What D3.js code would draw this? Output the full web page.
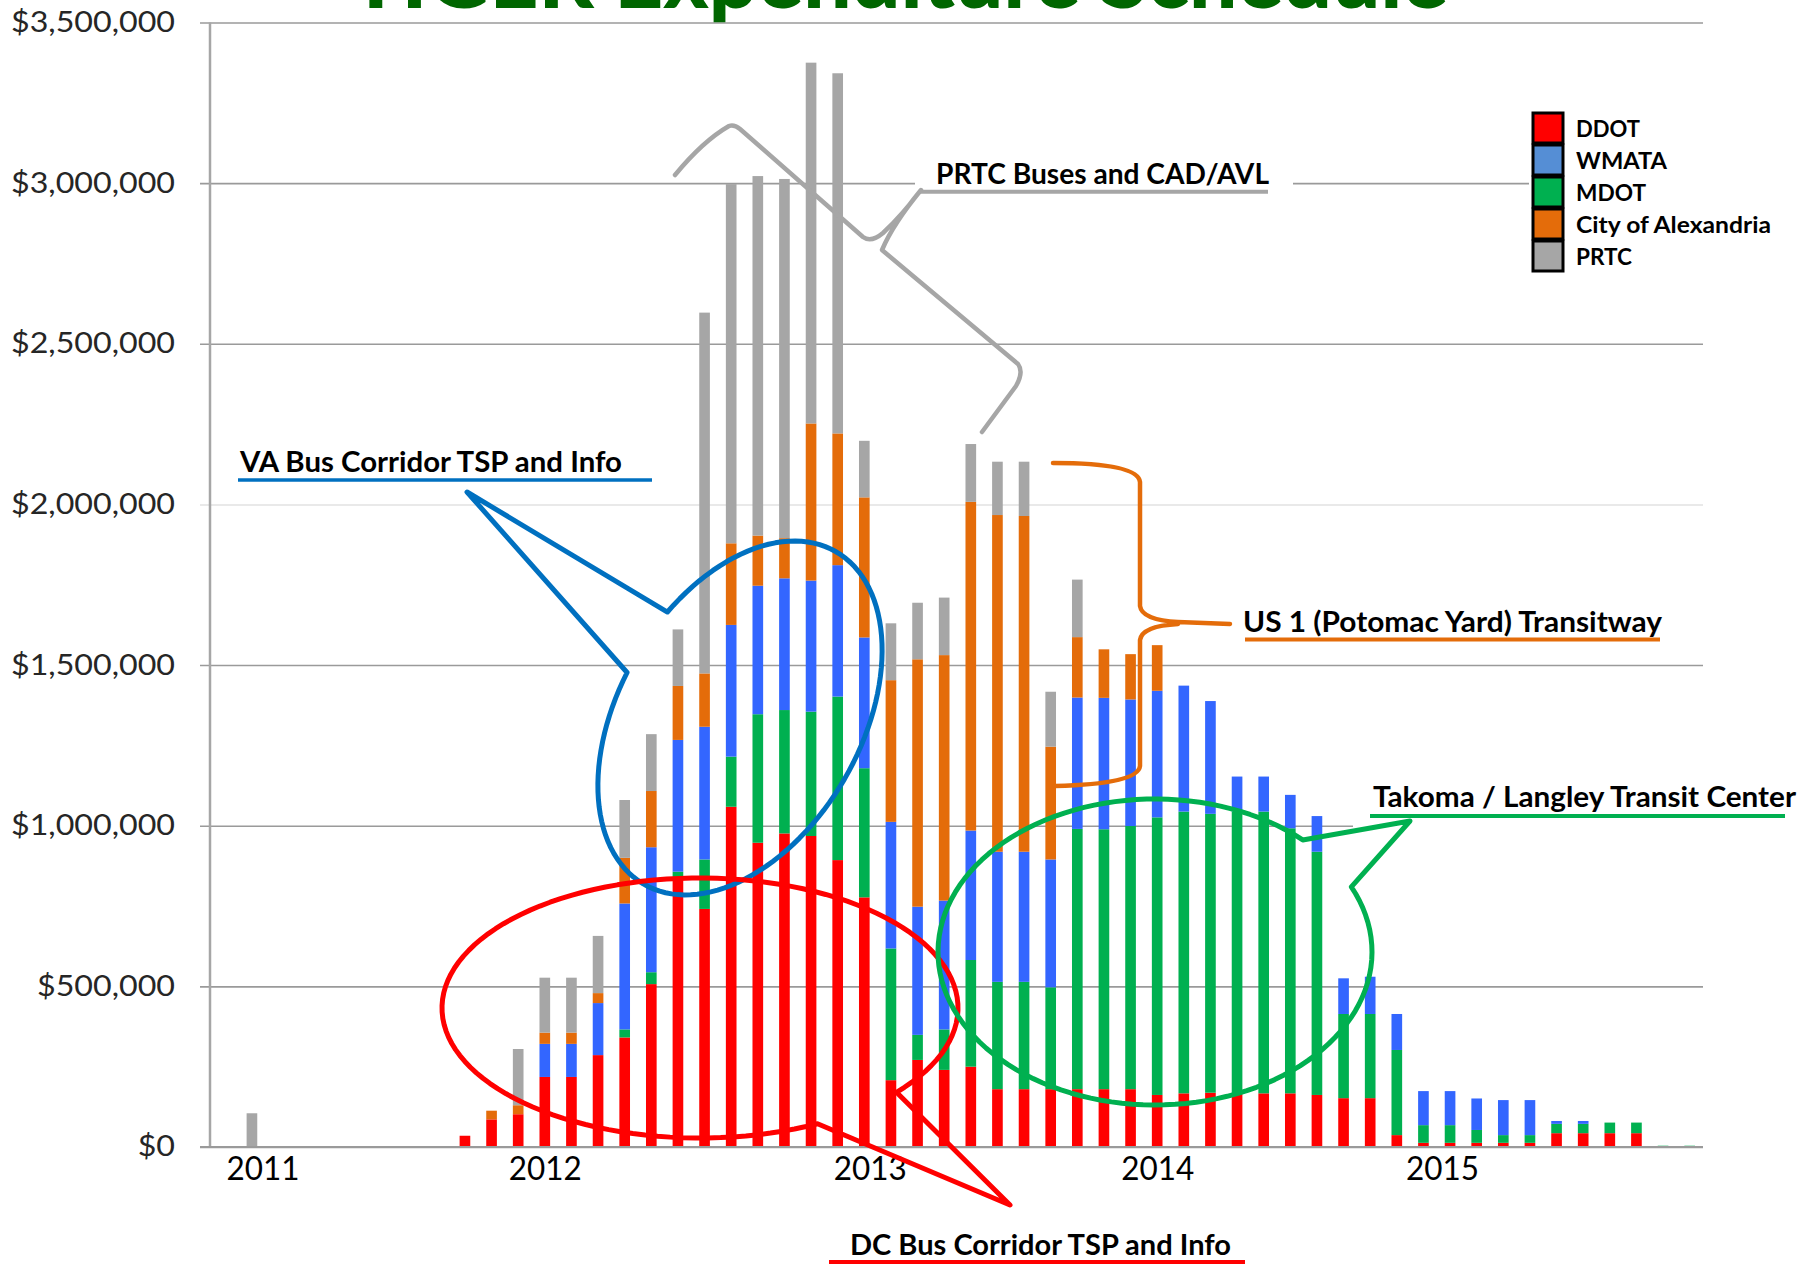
<!DOCTYPE html>
<html><head><meta charset="utf-8">
<script src="https://cdn.jsdelivr.net/npm/d3@7"></script>
<style>
html,body{margin:0;padding:0;background:#fff;}
svg{display:block;}
text{font-family:Lato,"Open Sans","Noto Sans",sans-serif;}
</style></head><body>
<svg id="chart" width="1820" height="1264"></svg>
<script>
// ---------------- DATA (values in thousands of dollars) ----------------
const UNIT = 1000;
const periods = d3.range(56).map(i => "P" + (i + 1));
const seriesNames = ["DDOT", "MDOT", "WMATA", "City of Alexandria", "PRTC"]; // stacking order (bottom -> top)
const legendNames = ["DDOT", "WMATA", "MDOT", "City of Alexandria", "PRTC"];

const ddot = [0,0,0,0,0,0,0,0,0,35,
  86,102,218,218,286,341,507,836,741,1059,
  947,976,968,893,777,208,271,240,250,180,
  180,180,180,180,180,162,167,169,167,167,
  167,162,152,152,37,13,13,13,13,13,
  43,43,43,43,0,0];
const mdot = [0,0,0,0,0,0,0,0,0,0,
  0,0,0,0,0,25,37,21,154,156,
  400,384,387,509,402,410,78,126,332,334,
  334,317,810,809,819,864,877,868,877,877,
  825,757,262,262,265,55,55,40,24,24,
  29,29,33,33,4,4];
const wmata = [0,0,0,0,0,0,0,0,0,0,
  0,0,103,103,162,392,389,410,413,410,
  400,410,408,409,407,394,399,401,403,405,
  405,398,409,409,394,394,392,351,109,109,
  104,111,111,116,112,106,106,98,109,109,
  9,9,0,0,0,0];
const alexandria = [0,0,0,0,0,0,0,0,0,0,
  27,28,35,35,31,142,175,168,166,254,
  156,125,489,410,436,441,770,764,1023,1048,
  1045,351,188,151,141,142,0,0,0,0,
  0,0,0,0,0,0,0,0,0,0,
  0,0,0,0,0,0];
const prtc = [0,105,0,0,0,0,0,0,0,0,
  0,175,171,171,178,180,177,176,1123,1118,
  1119,1118,1123,1121,176,177,176,179,180,166,
  169,171,179,0,0,0,0,0,0,0,
  0,0,0,0,0,0,0,0,0,0,
  0,0,0,0,0,0];

const yTickValues = [0, 500000, 1000000, 1500000, 2000000, 2500000, 3000000, 3500000];
const yearLabels = ["2011", "2012", "2013", "2014", "2015"];
const yearAt = [1.4, 12, 24.2, 35, 45.7]; // category index where each year label sits

const barColors = {"DDOT":"#FF0000","MDOT":"#00B050","WMATA":"#3366FF","City of Alexandria":"#E46C0A","PRTC":"#A6A6A6"};
const legendColors = {"DDOT":"#FF0000","WMATA":"#558ED5","MDOT":"#00B050","City of Alexandria":"#E46C0A","PRTC":"#A6A6A6"};

// ---------------- BUILD ----------------
const raw = {"DDOT":ddot,"MDOT":mdot,"WMATA":wmata,"City of Alexandria":alexandria,"PRTC":prtc};
const rows = periods.map((p, i) => {
  const r = {period: p};
  seriesNames.forEach(k => r[k] = raw[k][i] * UNIT);
  return r;
});
const stacked = d3.stack().keys(seriesNames)(rows);

const W = 1820, H = 1264;
const svg = d3.select("#chart");
svg.append("rect").attr("width", W).attr("height", H).attr("fill", "#fff");

const plot = {left: 212, right: 1703, top: 22.5, bottom: 1147, gridLeft: 200};
const x = d3.scaleBand().domain(periods).range([plot.left, plot.right]).paddingInner(0.6).paddingOuter(0.3);
const y = d3.scaleLinear().domain([0, 3500000]).range([plot.bottom, plot.top]);

function fit(sel, w) { sel.attr("textLength", w).attr("lengthAdjust", "spacingAndGlyphs"); return sel; }

// Y axis with gridlines
const yAxis = svg.append("g").attr("transform", `translate(${plot.gridLeft},0)`)
  .call(d3.axisLeft(y).tickValues(yTickValues).tickFormat(d3.format("$,"))
    .tickSize(-(plot.right - plot.gridLeft)).tickPadding(25));
yAxis.select(".domain").remove();
yAxis.selectAll(".tick line").attr("stroke", d => d === 2000000 ? "#e2e2e2" : "#9a9a9a").attr("stroke-width", 1.6);
yAxis.selectAll(".tick text").attr("font-size", 28).attr("fill", "#262626")
  .attr("font-family", "Lato, 'Open Sans', sans-serif");
// consistent horizontal compression of tick labels
(function(){
  const texts = yAxis.selectAll(".tick text").nodes();
  const ref = texts.find(t => t.textContent === "$3,500,000");
  const factor = 164 / ref.getComputedTextLength();
  texts.forEach(t => { const w = t.getComputedTextLength(); t.setAttribute("textLength", w * factor); t.setAttribute("lengthAdjust", "spacingAndGlyphs"); });
})();

// white label boxes hiding grid lines
svg.append("rect").attr("x", 915).attr("y", 150).attr("width", 378).attr("height", 50).attr("fill", "#fff");
svg.append("rect").attr("x", 1529).attr("y", 105).attr("width", 291).attr("height", 177).attr("fill", "#fff");
svg.append("rect").attr("x", 1353).attr("y", 775).attr("width", 467).attr("height", 57).attr("fill", "#fff");

// left axis line
svg.append("line").attr("x1", 210).attr("x2", 210).attr("y1", plot.top).attr("y2", plot.bottom)
  .attr("stroke", "#a6a6a6").attr("stroke-width", 2.5);

// Bars
svg.append("g").selectAll("g").data(stacked).join("g")
  .attr("fill", d => barColors[d.key])
  .selectAll("rect").data(d => d).join("rect")
  .attr("x", d => x(d.data.period))
  .attr("width", x.bandwidth())
  .attr("y", d => y(d[1]))
  .attr("height", d => Math.max(0, y(d[0]) - y(d[1])));

// baseline
svg.append("line").attr("x1", plot.gridLeft).attr("x2", plot.right).attr("y1", plot.bottom).attr("y2", plot.bottom)
  .attr("stroke", "#9a9a9a").attr("stroke-width", 2);

// X (year) labels
const xi = d3.scaleLinear().domain([0, periods.length - 1])
  .range([x(periods[0]) + x.bandwidth() / 2, x(periods[periods.length - 1]) + x.bandwidth() / 2]);
const xAxis = svg.append("g").attr("transform", `translate(0,${plot.bottom})`)
  .call(d3.axisBottom(xi).tickValues(yearAt).tickFormat((d, i) => yearLabels[i]).tickSize(0));
xAxis.select(".domain").remove();
xAxis.selectAll(".tick text").attr("y", 33).attr("dy", 0).attr("font-size", 32).attr("fill", "#000")
  .attr("font-family", "Lato, 'Open Sans', sans-serif").each(function(){ fit(d3.select(this), 73); });

// ---------------- ANNOTATIONS ----------------
const ann = svg.append("g").attr("fill", "none").attr("stroke-linejoin", "round").attr("stroke-linecap", "round");

function callout(cx, cy, rx, ry, rotDeg, t1, t2, tip) {
  const rot = rotDeg * Math.PI / 180;
  if (t2 < t1) t2 += 360;
  const pts = d3.range(0, 121).map(k => {
    const t = (t1 + (t2 - t1) * k / 120) * Math.PI / 180;
    const lx = rx * Math.cos(t), ly = ry * Math.sin(t);
    return [cx + lx * Math.cos(rot) - ly * Math.sin(rot), cy + lx * Math.sin(rot) + ly * Math.cos(rot)];
  });
  pts.push(tip);
  return d3.line()(pts) + "Z";
}

// PRTC brace (gray)
ann.append("path").attr("stroke", "#a6a6a6").attr("stroke-width", 4.5)
  .attr("d", "M675,175 Q703,141 729,126 Q734,124 740,129 L863,237 Q871,243 883,233 Q903,214 921,190 Q893,224 882,250 L1018,364 Q1024,372 1016,386 L982,432");
// VA bubble (blue)
ann.append("path").attr("stroke", "#0070C0").attr("stroke-width", 5)
  .attr("d", callout(740, 718, 192, 121, -60, -73.2, -95.1, [467, 492]));
// DC bubble (red)
ann.append("path").attr("stroke", "#FF0000").attr("stroke-width", 5)
  .attr("d", callout(700, 1008, 258, 130, 0, 62.9, 40.4, [1010, 1205]));
// Takoma bubble (green)
ann.append("path").attr("stroke", "#00B050").attr("stroke-width", 5)
  .attr("d", callout(1155, 952, 217, 153, 0, -25.2, -47.1, [1410, 821]));
// US 1 brace (orange)
ann.append("path").attr("stroke", "#E46C0A").attr("stroke-width", 4.5)
  .attr("d", "M1053,463 Q1138,463 1140,482 L1140,606 Q1142,620 1178,622 L1230,624 M1178,624 Q1142,626 1140,640 L1140,766 Q1138,784 1055,786");

// underlines
const ul = [
  [920, 1268, 191.7, "#a6a6a6", 4],
  [238, 652, 480, "#0070C0", 3.5],
  [1245, 1660, 639.5, "#E46C0A", 4],
  [1370, 1785, 816, "#00B050", 4],
  [829, 1245, 1262, "#FF0000", 4]
];
ul.forEach(u => ann.append("line").attr("x1", u[0]).attr("x2", u[1]).attr("y1", u[2]).attr("y2", u[2])
  .attr("stroke", u[3]).attr("stroke-width", u[4]).attr("stroke-linecap", "butt"));

// annotation labels
const labels = [
  ["PRTC Buses and CAD/AVL", 936, 184, 333],
  ["VA Bus Corridor TSP and Info", 240, 472, 382],
  ["US 1 (Potomac Yard) Transitway", 1243, 632, 419],
  ["Takoma / Langley Transit Center", 1373, 807, 423],
  ["DC Bus Corridor TSP and Info", 850, 1255, 381]
];
labels.forEach(l => fit(svg.append("text").attr("x", l[1]).attr("y", l[2]).attr("font-size", 28)
  .attr("font-weight", 700).attr("fill", "#000").text(l[0]), l[3]));

// ---------------- LEGEND ----------------
const legendW = {"DDOT":64,"WMATA":91,"MDOT":70,"City of Alexandria":195,"PRTC":56};
const lg = svg.append("g");
legendNames.forEach((k, i) => {
  lg.append("rect").attr("x", 1533).attr("y", 113 + i * 32).attr("width", 30).attr("height", 30)
    .attr("fill", legendColors[k]).attr("stroke", "#000").attr("stroke-width", 3);
  fit(lg.append("text").attr("x", 1576).attr("y", 137 + i * 32).attr("font-size", 23).attr("font-weight", 700)
    .attr("fill", "#000").text(k), legendW[k]);
});

// ---------------- TITLE (partly above the page) ----------------
fit(svg.append("text").attr("x", 899).attr("y", 8).attr("text-anchor", "middle").attr("font-size", 84)
  .attr("font-weight", 900).attr("fill", "#006600").text("TIGER Expenditure Schedule"), 1098);
</script>
</body></html>
